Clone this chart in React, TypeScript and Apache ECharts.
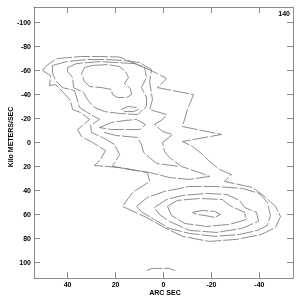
import React, { useEffect, useRef } from "react";
import * as echarts from "echarts";

const xTicks = [40, 20, 0, -20, -40];
const yTicks = [-100, -80, -60, -40, -20, 0, 20, 40, 60, 80, 100];

// contour level 1 (outermost, encloses both lobes)
const contourL1 = [
  [50.4, -60], [49.6, -62.5], [47.1, -66.7], [44.2, -70], [34.2, -71.7], [26.7, -71.7], [18.3, -71.3],
  [8.8, -63.3], [2.5, -57.5], [-1.3, -53.3], [2.5, -45.8], [-12.5, -40], [-10, -27.5], [-7.9, -13.3],
  [-24.2, -6.7], [-7.9, -0.8], [-12.1, 3.3], [-16.3, 10], [-19.2, 15.8], [-23.3, 22.5], [-28.3, 26.7],
  [-25.4, 32.5], [-37.1, 37.5], [-42.1, 45], [-46.7, 53.3], [-48.8, 61.7], [-46.7, 70.8], [-40.8, 76.7],
  [-30.4, 80.8], [-19.2, 82.5], [-7.9, 78.3], [0.4, 70], [7.1, 62.5], [17.1, 53.3], [12.9, 41.7],
  [5.8, 32.5], [6.7, 25], [18.3, 20.8], [28.8, 19.2], [26.3, 14.2], [24.2, 6.7], [29.6, 0], [34.2, -5],
  [35.8, -10.8], [30.8, -19.2], [34.6, -25], [37.9, -27.5], [38.8, -35], [42.1, -42.5], [45, -48.3],
  [47.5, -47.5], [47.1, -55.8], [50.4, -60],
];

// level 2, upper lobe and middle
const contourL2 = [
  [46.3, -64.2], [40.4, -67.5], [31.7, -69.2], [23.8, -69.2], [16.3, -68.3], [10, -66.7], [5, -60.8],
  [5.8, -50.8], [4.6, -35.8], [5.8, -27.5], [-1.3, -23.3], [0.4, -19.2], [3.8, -15], [0.4, -9.2],
  [-3.8, -6.7], [0.4, 0], [-0.4, 7.5], [-2.5, 12.5], [-7.5, 20], [-15, 25], [-19.2, 28.3], [-10.8, 30.8],
  [-2.5, 29.2], [5.8, 25], [14.2, 22.5], [21.3, 20], [18.3, 10], [20.4, 1.7], [25.4, -4.2], [30, -8.3],
  [30.4, -14.2], [26.7, -19.2], [31.7, -25], [35, -29.2], [37.1, -43.3], [42.1, -45.8], [45, -51.7],
  [46.3, -58.3], [46.3, -64.2],
];

// level 3, upper lobe
const contourL3 = [
  [40, -62.5], [36.3, -65.8], [26.7, -67.5], [19.6, -66.7], [12.1, -65.8], [7.9, -62.5], [7.1, -54.2],
  [9.2, -45.8], [7.1, -37.5], [7.1, -30], [10.8, -23.3], [18.3, -24.2], [24.6, -25.8], [28.8, -29.2],
  [31.7, -35.8], [33.3, -41.7], [37.5, -45.8], [37.9, -54.2], [40, -59.2], [40, -62.5],
];

// level 4, upper lobe core
const contourL4 = [
  [30, -64.2], [23.3, -65], [18.3, -63.3], [15.8, -59.2], [14.6, -54.2], [16.3, -49.2], [13.8, -45],
  [13.3, -40], [15.4, -37.5], [19.2, -37.5], [21.3, -40], [21.7, -44.2], [25.8, -45.8], [30.8, -46.7],
  [32.9, -50.8], [34.2, -57.5], [32.9, -62.5], [30, -64.2],
];

const upperSpot = [
  [17.5, -27.5], [15, -30], [11.3, -29.2], [10.4, -27.5], [12.5, -25.8], [16.3, -25.8], [17.5, -27.5],
];

const tongue = [
  [26.7, -12.5], [21.7, -16.7], [16.3, -18.3], [11.3, -19.2], [7.5, -15], [10, -10.8], [16.3, -10.8],
  [21.7, -10.8], [26.7, -12.5],
];

const middleLine = [
  [24.6, -8.3], [19.6, -5.8], [10.8, -4.2], [9.2, 1.7], [8.3, 8.3], [2.9, 17.5], [-6.7, 20],
];

// lower lobe
const lowerL2 = [
  [11.3, 53.3], [6.7, 45.8], [-0.4, 40.8], [-10.8, 36.7], [-22.1, 36.7], [-32.9, 38.3], [-40, 42.5],
  [-43.3, 50], [-44.6, 60.8], [-43.3, 69.2], [-39.2, 73.3], [-31.7, 76.7], [-21.3, 78.3], [-10.8, 75.8],
  [-2.5, 71.7], [3.8, 64.2], [8.8, 58.3], [11.3, 53.3],
];

const lowerL3 = [
  [3.8, 54.2], [-1.3, 47.5], [-7.9, 44.2], [-17.9, 42.5], [-26.3, 43.3], [-31.7, 48.3], [-33.8, 54.2],
  [-38.8, 58.3], [-39.6, 65.8], [-32.5, 71.7], [-22.1, 75], [-10.8, 73.3], [-2.5, 65.8], [1.7, 60],
  [3.8, 54.2],
];

const lowerL4 = [
  [-1.7, 53.3], [-5.8, 48.3], [-15, 46.7], [-24.6, 47.5], [-27.5, 52.5], [-33.8, 58.3], [-34.6, 64.2],
  [-27.5, 68.3], [-17.9, 70], [-8.8, 67.5], [-3.3, 60.8], [-1.7, 53.3],
];

const lowerCore = [
  [-12.1, 58.3], [-16.3, 56.7], [-21.3, 57.5], [-23.8, 60], [-21.3, 62.5], [-17.1, 60.8], [-13.8, 60],
  [-12.1, 58.3],
];

const bottomArc = [
  [7.1, 106.7], [4.6, 105], [-2.5, 105], [-4.6, 106.7],
];

const contours = [
  contourL1, contourL2, contourL3, contourL4, upperSpot, tongue, middleLine,
  lowerL2, lowerL3, lowerL4, lowerCore, bottomArc,
];

const FONT = '"Liberation Sans", Arial, sans-serif';
const AXIS_COLOR = "#8c8c8c";

export default function App() {
  const ref = useRef<HTMLDivElement>(null);
  useEffect(() => {
    const chart = echarts.init(ref.current!, undefined, { renderer: "svg" });
    const axisCommon = {
      type: "value",
      splitLine: { show: false },
      axisLine: { show: true, onZero: false, lineStyle: { color: AXIS_COLOR, width: 1 } },
    };
    chart.setOption({
      animation: false,
      grid: { left: 34, right: 7, top: 7, bottom: 22, containLabel: false },
      xAxis: [
        {
          ...axisCommon,
          min: -54,
          max: 54,
          inverse: true,
          position: "bottom",
          axisTick: { show: true, inside: true, length: 6, customValues: xTicks, lineStyle: { color: AXIS_COLOR } },
          axisLabel: {
            customValues: xTicks,
            color: "#000",
            fontSize: 7,
            fontWeight: "bold",
            fontFamily: FONT,
            margin: 3,
          },
        },
        {
          ...axisCommon,
          min: -54,
          max: 54,
          inverse: true,
          position: "top",
          axisTick: { show: true, inside: true, length: 6, customValues: xTicks, lineStyle: { color: AXIS_COLOR } },
          axisLabel: { show: false },
        },
      ],
      yAxis: [
        {
          ...axisCommon,
          min: -113,
          max: 113,
          inverse: true,
          position: "left",
          axisTick: { show: true, inside: true, length: 6, customValues: yTicks, lineStyle: { color: AXIS_COLOR } },
          axisLabel: {
            customValues: yTicks,
            color: "#000",
            fontSize: 7,
            fontWeight: "bold",
            fontFamily: FONT,
            margin: 3,
          },
        },
        {
          ...axisCommon,
          min: -113,
          max: 113,
          inverse: true,
          position: "right",
          axisTick: { show: true, inside: true, length: 6, customValues: yTicks, lineStyle: { color: AXIS_COLOR } },
          axisLabel: { show: false },
        },
      ],
      graphic: [
        {
          type: "text",
          x: 290,
          y: 13,
          style: { text: "140", align: "right", verticalAlign: "middle", fill: "#000", font: `bold 7px ${FONT}` },
        },
        {
          type: "text",
          x: 165,
          y: 292,
          style: { text: "ARC SEC", align: "center", verticalAlign: "middle", fill: "#000", font: `bold 7px ${FONT}` },
        },
        {
          type: "text",
          x: 10,
          y: 137,
          rotation: Math.PI / 2,
          style: {
            text: "Kilo METERS/SEC",
            align: "center",
            verticalAlign: "middle",
            fill: "#000",
            font: `bold 7px ${FONT}`,
          },
        },
      ],
      series: contours.map((c) => ({
        type: "line",
        xAxisIndex: 0,
        yAxisIndex: 0,
        data: c,
        showSymbol: false,
        symbol: "none",
        silent: true,
        lineStyle: { color: "#707070", width: 0.8, type: [16, 2] },
      })),
    });
    return () => chart.dispose();
  }, []);
  return <div ref={ref} style={{ position: "fixed", left: 0, top: 0, width: 300, height: 300 }} />;
}
